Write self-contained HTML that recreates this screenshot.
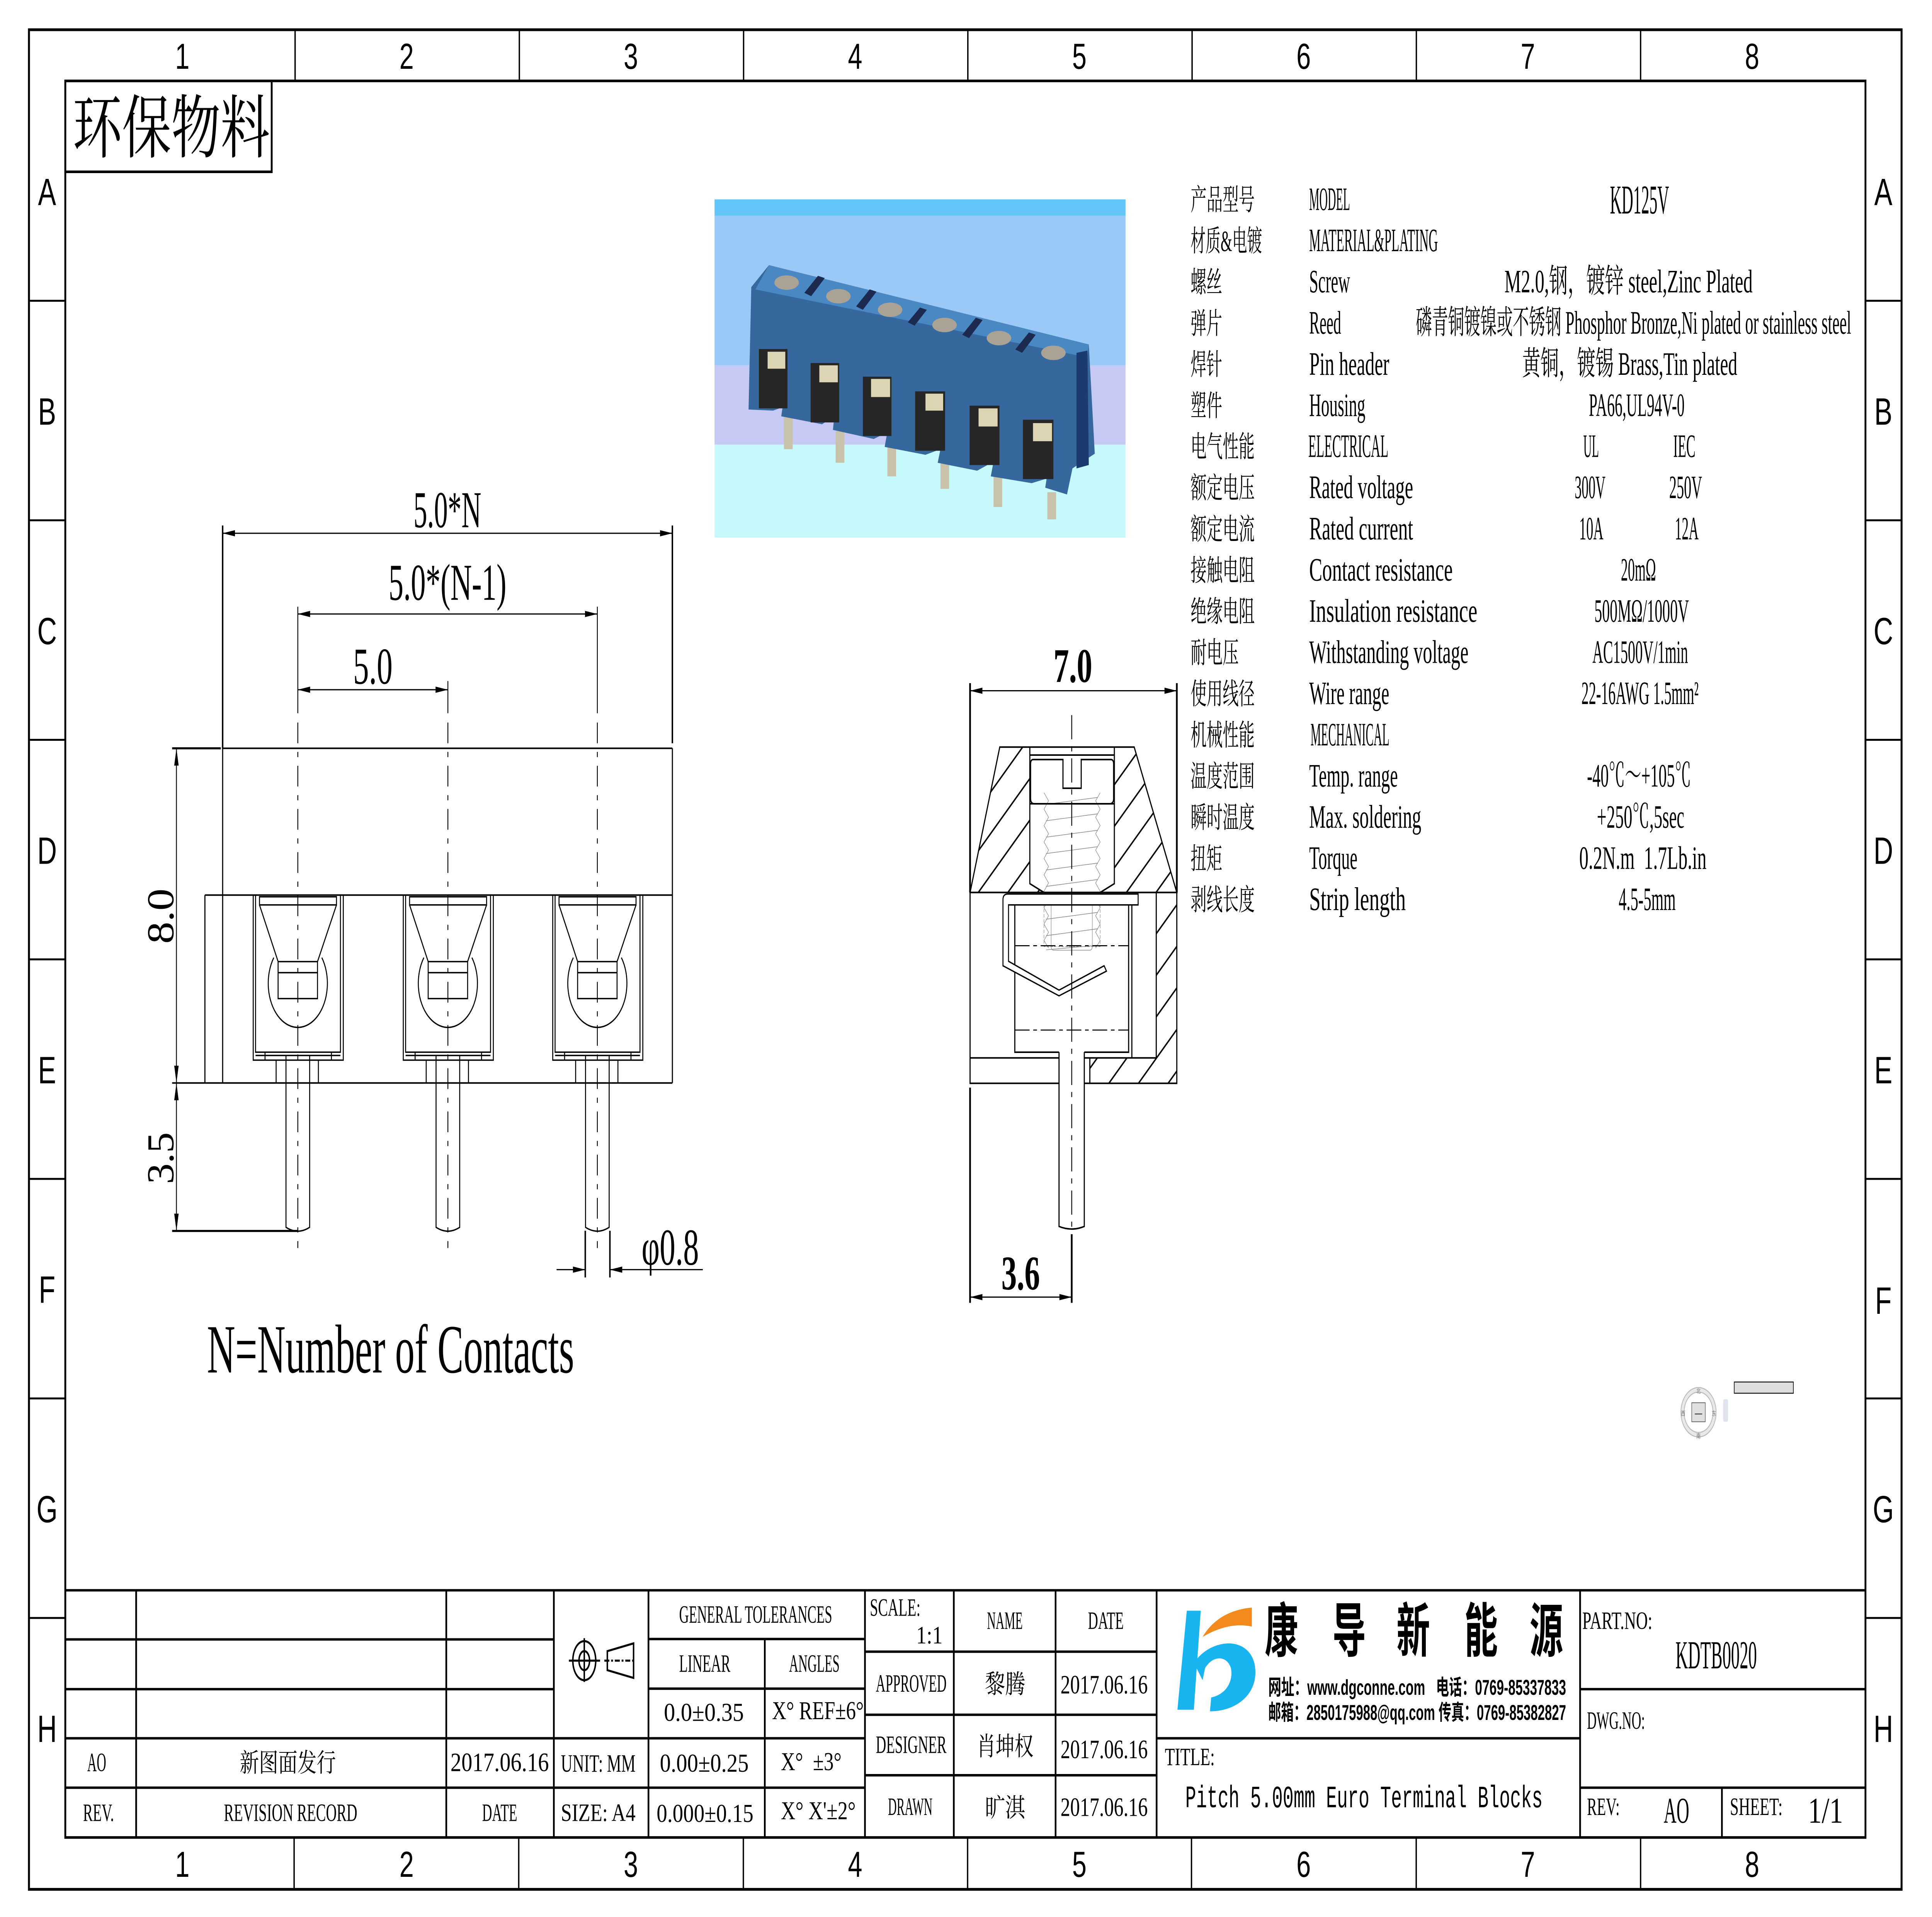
<!DOCTYPE html>
<html><head><meta charset="utf-8">
<style>
html,body{margin:0;padding:0;background:#fff;width:100%;height:100%;overflow:hidden;}
svg{display:block;position:absolute;left:0;top:0;width:100vw;height:100vh;}
.t{font-family:"Liberation Serif","Noto Serif CJK SC",serif;fill:#000;}
.n{font-family:"Liberation Sans",sans-serif;fill:#000;}
.m{font-family:"Liberation Mono","Noto Serif CJK SC",monospace;fill:#000;}
.h{font-family:"Liberation Sans","Noto Sans CJK SC",sans-serif;fill:#000;font-weight:700;}
</style></head><body>
<svg viewBox="0 0 1568 1109" preserveAspectRatio="none" xmlns="http://www.w3.org/2000/svg">
<defs>
<pattern id="hatch" patternUnits="userSpaceOnUse" width="17" height="17" patternTransform="rotate(45)">
<line x1="8.5" y1="0" x2="8.5" y2="17" stroke="#000" stroke-width="1"/>
</pattern>
<g id="win" fill="none" stroke="#000" stroke-width="0.8">
 <rect x="205.5" y="517.8" width="73.1" height="95.5"/>
 <polyline points="207.4,517.8 207.4,608.7 276.3,608.7 276.3,517.8"/>
 <line x1="207.4" y1="610.6" x2="276.3" y2="610.6"/>
 <line x1="215.1" y1="608.7" x2="215.1" y2="613.3"/>
 <line x1="269" y1="608.7" x2="269" y2="613.3"/>
 <rect x="210.6" y="518.8" width="62.5" height="4.7"/>
 <line x1="210.6" y1="523.5" x2="225.7" y2="556.3"/>
 <line x1="273.1" y1="523.5" x2="257.7" y2="556.3"/>
 <rect x="225.7" y="556.3" width="32" height="21.4"/>
 <line x1="225.7" y1="562.7" x2="257.7" y2="562.7"/>
 <path d="M222.2,554 A24 25.5 0 1 0 261.2,554"/>
 <line x1="224.1" y1="613.3" x2="224.1" y2="626.5"/>
 <line x1="258.4" y1="613.3" x2="258.4" y2="626.5"/>
 <path d="M232.1,610.6 V710 Q241.7,714.5 251.3,710 V610.6"/>
</g>
</defs>

<rect x="0" y="0" width="1568" height="1109" fill="#fff"/>

<!-- Border -->
<g fill="none" stroke="#000">
<rect x="23.5" y="17.2" width="1519.8" height="1075.8" stroke-width="1.6"/>
<rect x="53" y="46.8" width="1461" height="1016.2" stroke-width="1.5"/>
<path stroke-width="1.1" d="M239.5,17.2V46.8 M421.5,17.2V46.8 M603.5,17.2V46.8 M785.5,17.2V46.8 M967.5,17.2V46.8 M1149.5,17.2V46.8 M1331.5,17.2V46.8
M238.7,1063V1093 M421,1063V1093 M603.3,1063V1093 M785.3,1063V1093 M967,1063V1093 M1149.4,1063V1093 M1331.5,1063V1093
M23.5,174H53 M23.5,301H53 M23.5,428H53 M23.5,555H53 M23.5,682H53 M23.5,809H53 M23.5,936H53
M1514,174H1543 M1514,301H1543 M1514,428H1543 M1514,555H1543 M1514,682H1543 M1514,809H1543 M1514,936H1543"/>
</g>
<g class="n" font-size="21" text-anchor="middle">
<text x="148" y="39.8">1</text><text x="330" y="39.8">2</text><text x="512" y="39.8">3</text><text x="694" y="39.8">4</text><text x="876" y="39.8">5</text><text x="1058" y="39.8">6</text><text x="1240" y="39.8">7</text><text x="1422" y="39.8">8</text>
<text x="148" y="1085.7">1</text><text x="330" y="1085.7">2</text><text x="512" y="1085.7">3</text><text x="694" y="1085.7">4</text><text x="876" y="1085.7">5</text><text x="1058" y="1085.7">6</text><text x="1240" y="1085.7">7</text><text x="1422" y="1085.7">8</text>
</g>
<g class="n" font-size="22" text-anchor="middle">
<text x="38.2" y="118.7">A</text><text x="38.2" y="245.7">B</text><text x="38.2" y="372.7">C</text><text x="38.2" y="499.7">D</text><text x="38.2" y="626.7">E</text><text x="38.2" y="753.7">F</text><text x="38.2" y="880.7">G</text><text x="38.2" y="1007.7">H</text>
<text x="1528.5" y="118.7">A</text><text x="1528.5" y="245.7">B</text><text x="1528.5" y="372.7">C</text><text x="1528.5" y="499.7">D</text><text x="1528.5" y="626.7">E</text><text x="1528.5" y="760">F</text><text x="1528.5" y="880.7">G</text><text x="1528.5" y="1007.7">H</text>
</g>

<!-- 环保物料 box -->
<rect x="53" y="46.8" width="167.5" height="52.6" fill="none" stroke="#000" stroke-width="1.5"/>
<text class="t" x="59" y="88" font-size="40" textLength="160" lengthAdjust="spacingAndGlyphs">环保物料</text>

<!-- Photo -->
<g transform="translate(576.6,111.7) scale(0.2209,0.1311)">
 <rect x="15" y="28" width="1510" height="72" fill="#62c6f8"/>
 <rect x="15" y="100" width="1510" height="660" fill="#9bc9f7"/>
 <rect x="15" y="760" width="1510" height="350" fill="#c5c9f4"/>
 <rect x="15" y="1110" width="1510" height="410" fill="#c6f9fb"/>
 <g fill="#c9c2aa">
  <rect x="270" y="990" width="32" height="140"/>
  <rect x="460" y="1050" width="32" height="140"/>
  <rect x="650" y="1110" width="32" height="140"/>
  <rect x="845" y="1180" width="32" height="125"/>
  <rect x="1040" y="1250" width="32" height="135"/>
  <rect x="1238" y="1320" width="32" height="120"/>
 </g>
 <polygon fill="#36689e" points="150,415 215,318 1390,668 1412,1150 1330,1215 1310,1330 1230,1300 1235,1260 1180,1280 1030,1250 1040,1185 980,1225 835,1190 845,1130 790,1155 640,1120 650,1055 600,1085 450,1045 455,985 410,1020 260,985 265,945 230,960 140,955"/>
 <polygon fill="#4a88c4" points="215,318 1390,668 1385,725 165,425"/>
 <g fill="#a9a295">
  <ellipse cx="280" cy="395" rx="45" ry="32"/><ellipse cx="470" cy="455" rx="45" ry="32"/><ellipse cx="660" cy="515" rx="45" ry="32"/><ellipse cx="860" cy="582" rx="45" ry="32"/><ellipse cx="1060" cy="640" rx="45" ry="32"/><ellipse cx="1260" cy="705" rx="45" ry="32"/>
 </g>
 <g fill="#1c2a50">
  <polygon points="345,440 395,365 420,375 370,455"/><polygon points="535,500 585,425 610,435 560,515"/><polygon points="725,570 770,505 795,515 750,585"/><polygon points="925,625 975,550 1000,560 950,640"/><polygon points="1120,690 1170,615 1195,625 1145,705"/>
 </g>
 <polygon fill="#1b3a70" points="1345,705 1385,695 1390,1200 1345,1215"/>
 <g fill="#262626">
  <rect x="178" y="688" width="105" height="262"/><rect x="368" y="750" width="105" height="262"/><rect x="560" y="810" width="105" height="262"/><rect x="752" y="875" width="110" height="262"/><rect x="952" y="938" width="110" height="262"/><rect x="1148" y="1000" width="112" height="262"/>
 </g>
 <g fill="#ddd4b4">
  <rect x="210" y="700" width="65" height="75"/><rect x="400" y="760" width="68" height="75"/><rect x="590" y="820" width="70" height="80"/><rect x="790" y="885" width="65" height="75"/><rect x="985" y="950" width="70" height="80"/><rect x="1185" y="1015" width="70" height="80"/>
 </g>
</g>

<!-- Left view -->
<g fill="none" stroke="#000" stroke-width="0.7">
 <path d="M180.7,308.5H545.7 M241.7,355.2H484.8 M241.7,399H363.5"/>
 <path d="M143.2,432.9V712.1 M451.7,734.5H475 M495,734.5H570.4"/>
 <path d="M241.7,351V412.6 M484.8,351V412.6 M363.5,394V412.6"/>
 <path stroke-dasharray="12,5,3,5" d="M241.7,418V722 M363.5,418V722 M484.8,418V722"/>
</g>
<g fill="none" stroke="#000" stroke-width="1.2">
 <path d="M180.7,304V433 M545.7,304V430 M139.7,432.9H179.2 M139.7,712.1H241.7 M475,712V739 M495,712V739"/>
</g>
<g fill="#000">
 <polygon points="180.7,308.5 190.7,306.7 190.7,310.3"/><polygon points="545.7,308.5 535.7,306.7 535.7,310.3"/>
 <polygon points="241.7,355.2 251.7,353.4 251.7,357"/><polygon points="484.8,355.2 474.8,353.4 474.8,357"/>
 <polygon points="241.7,399 251.7,397.2 251.7,400.8"/><polygon points="363.5,399 353.5,397.2 353.5,400.8"/>
 <polygon points="143.2,432.9 141.4,442.9 145,442.9"/><polygon points="143.2,626.5 141.4,616.5 145,616.5"/>
 <polygon points="143.2,626.5 141.4,636.5 145,636.5"/><polygon points="143.2,712.1 141.4,702.1 145,702.1"/>
 <polygon points="475,734.5 465,732.7 465,736.3"/><polygon points="495,734.5 505,732.7 505,736.3"/>
</g>
<g fill="none" stroke="#000" stroke-width="0.9">
 <path d="M180.7,432.9H545.7 M180.7,432.9V626.5 M545.7,432.9V626.5 M166.3,517.8H545.7 M166.3,517.8V626.5 M139.7,626.5H545.7"/>
</g>
<use href="#win"/>
<use href="#win" transform="translate(121.8,0)"/>
<use href="#win" transform="translate(243.1,0)"/>
<g class="t">
 <text x="335.6" y="305" font-size="30" textLength="55" lengthAdjust="spacingAndGlyphs">5.0*N</text>
 <text x="315.4" y="347" font-size="30" textLength="95.6" lengthAdjust="spacingAndGlyphs">5.0*(N-1)</text>
 <text x="286.6" y="395.5" font-size="30" textLength="32" lengthAdjust="spacingAndGlyphs">5.0</text>
 <text transform="translate(140.7,546) rotate(-90)" x="0" y="0" font-size="31" textLength="32" lengthAdjust="spacingAndGlyphs">8.0</text>
 <text transform="translate(140.7,685) rotate(-90)" x="0" y="0" font-size="31" textLength="30" lengthAdjust="spacingAndGlyphs">3.5</text>
 <text x="520.7" y="731.6" font-size="30" textLength="46.5" lengthAdjust="spacingAndGlyphs">φ0.8</text>
 <text x="168" y="794" font-size="40" textLength="298" lengthAdjust="spacingAndGlyphs">N=Number of Contacts</text>
</g>

<!-- Side view -->
<polygon fill="url(#hatch)" points="811.4,432.2 835.8,432.2 835.8,511.2 847.3,516.3 787.3,516.3"/>
<polygon fill="url(#hatch)" points="904.4,432.2 920.5,432.2 955.1,516.3 892.9,516.3 904.4,511.2"/>
<rect fill="url(#hatch)" x="938.4" y="516.3" width="16.7" height="95.7"/>
<rect fill="url(#hatch)" x="884.5" y="612" width="70.6" height="14.7"/>
<g fill="none" stroke="#888" stroke-width="0.35">
 <rect x="847.3" y="517.6" width="45.6" height="30" stroke-dasharray="2,1"/>
 <rect x="853.1" y="517" width="33.4" height="32.7" rx="2"/>
 <polyline points="847.3,458.6 851,463.3 847.3,468.1 851,472.8 847.3,477.6 851,482.3 847.3,487.1 851,491.8 847.3,496.6 851,501.3 847.3,506.1 851,510.8 847.3,515.6 851,520.3 847.3,525.1 851,529.8 847.3,534.6 851,539.3 847.3,544.1 851,548.4"/>
 <polyline points="892.9,458.6 889.2,463.3 892.9,468.1 889.2,472.8 892.9,477.6 889.2,482.3 892.9,487.1 889.2,491.8 892.9,496.6 889.2,501.3 892.9,506.1 889.2,510.8 892.9,515.6 889.2,520.3 892.9,525.1 889.2,529.8 892.9,534.6 889.2,539.3 892.9,544.1 889.2,548.4"/>
 <path d="M849,465.3L891,461.3 M849,474.8L891,470.8 M849,484.3L891,480.3 M849,493.8L891,489.8 M849,503.3L891,499.3 M849,512.8L891,508.8 M849,522.3L891,518.3 M849,531.8L891,527.8 M849,541.3L891,537.3 M849,549.5L891,546.8"/>
</g>
<g fill="none" stroke="#000" stroke-width="0.9">
 <path d="M811.4,432.2H920.5L955.1,516.3H787.3Z"/>
 <path d="M787.3,516.3H955.1V626.7H880 M859.5,626.7H787.3V516.3"/>
 <path d="M835.8,432.2V511.2L847.3,516.3 M904.4,432.2V511.2L892.9,516.3 M835.8,436.8H904.4 M835.8,465H904.4"/>
 <path d="M838.5,439.4H862.7V456H877.5V439.4H901.7Q903.8,439.4 903.8,442V462Q903.8,465 900.5,465H839.6Q836.4,465 836.4,462V442Q836.4,439.4 838.5,439.4Z"/>
 <path d="M787.3,612H859.5 M880,612H938.4 M938.4,516.3V612 M823.6,522.8V608.7H859.5 M880,608.7H916V517.2 M918.6,517.2V612 M884.5,612V626.7"/>
 <path d="M859.5,608.7V709.5Q869.8,712.5 880,709.5V608.7"/>
 <path stroke-width="0.6" stroke-dasharray="12,3,3,3" d="M823.6,547.1H916 M823.6,595.9H916"/>
</g>
<path fill="#fff" stroke="#000" stroke-width="0.8" d="M923.7,517.2V523.5H818.5V556.1L859.5,572.8L896.1,558.7L898,561.8L859.5,576.1L814,558.7V520.5Q814,517.2 817.8,517.2Z"/>
<path fill="none" stroke="#000" stroke-width="0.7" stroke-dasharray="14,4,3,4" d="M869.8,413.7V713"/>
<g fill="none" stroke="#000" stroke-width="0.7">
 <path d="M787.3,399.6H955.1 M787.3,750.4H869.8"/>
</g>
<g fill="none" stroke="#000" stroke-width="1.4">
 <path d="M787.3,395.2V516.3 M955.1,395.2V516.3 M787.3,629.2V753.7 M869.8,714V753.7"/>
</g>
<g fill="#000">
 <polygon points="787.3,399.6 797.3,397.8 797.3,401.4"/><polygon points="955.1,399.6 945.1,397.8 945.1,401.4"/>
 <polygon points="787.3,750.4 797.3,748.6 797.3,752.2"/><polygon points="869.8,750.4 859.8,748.6 859.8,752.2"/>
</g>
<g class="t" font-weight="bold">
 <text x="855" y="394.5" font-size="28" textLength="31.5" lengthAdjust="spacingAndGlyphs">7.0</text>
 <text x="812.7" y="746" font-size="28" textLength="31.3" lengthAdjust="spacingAndGlyphs">3.6</text>
</g>

<!-- Spec table -->
<g class="t" font-size="17">
 <text x="966.3" y="121.5" textLength="52" lengthAdjust="spacingAndGlyphs">产品型号</text>
 <text x="966.3" y="145.3" textLength="58" lengthAdjust="spacingAndGlyphs">材质&amp;电镀</text>
 <text x="966.3" y="169.1" textLength="25.6" lengthAdjust="spacingAndGlyphs">螺丝</text>
 <text x="966.3" y="193.0" textLength="25.6" lengthAdjust="spacingAndGlyphs">弹片</text>
 <text x="966.3" y="216.8" textLength="25.6" lengthAdjust="spacingAndGlyphs">焊针</text>
 <text x="966.3" y="240.6" textLength="25.6" lengthAdjust="spacingAndGlyphs">塑件</text>
 <text x="966.3" y="264.4" textLength="52" lengthAdjust="spacingAndGlyphs">电气性能</text>
 <text x="966.3" y="288.2" textLength="52" lengthAdjust="spacingAndGlyphs">额定电压</text>
 <text x="966.3" y="312.1" textLength="52" lengthAdjust="spacingAndGlyphs">额定电流</text>
 <text x="966.3" y="335.9" textLength="52" lengthAdjust="spacingAndGlyphs">接触电阻</text>
 <text x="966.3" y="359.7" textLength="52" lengthAdjust="spacingAndGlyphs">绝缘电阻</text>
 <text x="966.3" y="383.5" textLength="39" lengthAdjust="spacingAndGlyphs">耐电压</text>
 <text x="966.3" y="407.3" textLength="52" lengthAdjust="spacingAndGlyphs">使用线径</text>
 <text x="966.3" y="431.2" textLength="52" lengthAdjust="spacingAndGlyphs">机械性能</text>
 <text x="966.3" y="455.0" textLength="52" lengthAdjust="spacingAndGlyphs">温度范围</text>
 <text x="966.3" y="478.8" textLength="52" lengthAdjust="spacingAndGlyphs">瞬时温度</text>
 <text x="966.3" y="502.6" textLength="25.6" lengthAdjust="spacingAndGlyphs">扭矩</text>
 <text x="966.3" y="526.4" textLength="52" lengthAdjust="spacingAndGlyphs">剥线长度</text>
</g>
<g class="t" font-size="19">
 <text x="1062.5" y="121.5" textLength="33.2" lengthAdjust="spacingAndGlyphs">MODEL</text>
 <text x="1062.5" y="145.3" textLength="104.5" lengthAdjust="spacingAndGlyphs">MATERIAL&amp;PLATING</text>
 <text x="1062.5" y="169.1" textLength="33.2" lengthAdjust="spacingAndGlyphs">Screw</text>
 <text x="1062.5" y="193.0" textLength="26" lengthAdjust="spacingAndGlyphs">Reed</text>
 <text x="1062.5" y="216.8" textLength="65" lengthAdjust="spacingAndGlyphs">Pin header</text>
 <text x="1062.5" y="240.6" textLength="45.6" lengthAdjust="spacingAndGlyphs">Housing</text>
 <text x="1061.8" y="264.4" textLength="65" lengthAdjust="spacingAndGlyphs">ELECTRICAL</text>
 <text x="1062.5" y="288.2" textLength="84.4" lengthAdjust="spacingAndGlyphs">Rated voltage</text>
 <text x="1062.5" y="312.1" textLength="84.4" lengthAdjust="spacingAndGlyphs">Rated current</text>
 <text x="1062.5" y="335.9" textLength="116.5" lengthAdjust="spacingAndGlyphs">Contact resistance</text>
 <text x="1062.5" y="359.7" textLength="136.5" lengthAdjust="spacingAndGlyphs">Insulation resistance</text>
 <text x="1062.5" y="383.5" textLength="129.3" lengthAdjust="spacingAndGlyphs">Withstanding voltage</text>
 <text x="1062.5" y="407.3" textLength="65" lengthAdjust="spacingAndGlyphs">Wire range</text>
 <text x="1063.6" y="431.2" textLength="64" lengthAdjust="spacingAndGlyphs">MECHANICAL</text>
 <text x="1062.5" y="455.0" textLength="72" lengthAdjust="spacingAndGlyphs">Temp. range</text>
 <text x="1062.5" y="478.8" textLength="91" lengthAdjust="spacingAndGlyphs">Max. soldering</text>
 <text x="1062.5" y="502.6" textLength="39.2" lengthAdjust="spacingAndGlyphs">Torque</text>
 <text x="1062.5" y="526.4" textLength="78.4" lengthAdjust="spacingAndGlyphs">Strip length</text>

 <text x="1306.6" y="123.5" font-size="23.7" textLength="48" lengthAdjust="spacingAndGlyphs">KD125V</text>
 <text x="1221" y="169.1" textLength="201.4" lengthAdjust="spacingAndGlyphs">M2.0,钢，镀锌 steel,Zinc Plated</text>
 <text transform="translate(1149,193) scale(0.63,1)" x="0" y="0" textLength="561" lengthAdjust="spacingAndGlyphs">磷青铜镀镍或不锈钢 Phosphor Bronze,Ni plated or stainless steel</text>
 <text x="1235.4" y="216.8" textLength="174.6" lengthAdjust="spacingAndGlyphs">黄铜，镀锡 Brass,Tin plated</text>
 <text x="1289.5" y="240.6" textLength="77.7" lengthAdjust="spacingAndGlyphs">PA66,UL94V-0</text>
 <text x="1285" y="264.4" textLength="12.7" lengthAdjust="spacingAndGlyphs">UL</text>
 <text x="1358" y="264.4" textLength="18" lengthAdjust="spacingAndGlyphs">IEC</text>
 <text x="1278" y="288.2" textLength="25" lengthAdjust="spacingAndGlyphs">300V</text>
 <text x="1354.7" y="288.2" textLength="26.7" lengthAdjust="spacingAndGlyphs">250V</text>
 <text x="1281.7" y="312.1" textLength="19.6" lengthAdjust="spacingAndGlyphs">10A</text>
 <text x="1359.3" y="312.1" textLength="19.3" lengthAdjust="spacingAndGlyphs">12A</text>
 <text x="1315.5" y="335.9" textLength="28.5" lengthAdjust="spacingAndGlyphs">20mΩ</text>
 <text x="1294" y="359.7" textLength="76.7" lengthAdjust="spacingAndGlyphs">500MΩ/1000V</text>
 <text x="1292.4" y="383.5" textLength="77.6" lengthAdjust="spacingAndGlyphs">AC1500V/1min</text>
 <text x="1283.5" y="407.3" textLength="95.1" lengthAdjust="spacingAndGlyphs">22-16AWG 1.5mm²</text>
 <text x="1288" y="455.0" textLength="84.5" lengthAdjust="spacingAndGlyphs">-40℃～+105℃</text>
 <text x="1296" y="478.8" textLength="71" lengthAdjust="spacingAndGlyphs">+250℃,5sec</text>
 <text x="1281.7" y="502.6" textLength="103.3" lengthAdjust="spacingAndGlyphs">0.2N.m&#160; 1.7Lb.in</text>
 <text x="1313.7" y="526.4" textLength="46.3" lengthAdjust="spacingAndGlyphs">4.5-5mm</text>
</g>

<!-- Navigation widget -->
<g>
 <ellipse cx="1378.5" cy="817" rx="13" ry="13" fill="none" stroke="#bbb" stroke-width="3.2"/>
 <ellipse cx="1378.5" cy="817" rx="13" ry="13" fill="none" stroke="#e8e8e8" stroke-width="2"/>
 <rect x="1373" y="811.5" width="11" height="11" fill="#e0e0e0" stroke="#555" stroke-width="0.4"/>
 <line x1="1375.5" y1="818" x2="1381.5" y2="818" stroke="#333" stroke-width="0.5"/>
 <rect x="1398.5" y="809.5" width="4" height="13" rx="1" fill="#dfe3ee"/>
 <rect x="1407.5" y="799.5" width="48" height="6.5" fill="#ddd" stroke="#000" stroke-width="0.5"/>
 <g fill="#777" font-family="Noto Sans CJK SC,sans-serif" font-size="3.5" text-anchor="middle">
  <text x="1378.5" y="806">北</text><text x="1378.5" y="832">南</text><text x="1366" y="819">西</text><text x="1391" y="819">东</text>
 </g>
</g>

<!-- Title block -->
<g fill="none" stroke="#000" stroke-width="1.4">
 <path d="M53,920H1514"/>
 <path d="M110.5,920V1063 M362.2,920V1063 M449.5,920V1063 M526.3,920V1063 M620.7,948.2V1063 M702,920V1063 M774.1,920V1063 M856.7,920V1063 M938.7,920V1063 M1282.4,920V1063 M1397.5,1034.2V1063"/>
 <path d="M53,948.4H449.5 M53,977.2H449.5 M53,1005.6H702 M53,1034.2H702 M526.3,948.2H702 M526.3,976.9H702 M702,955.5H938.7 M702,992H938.7 M702,1027H938.7 M1282.4,977.2H1514 M938.7,1005.6H1282.4 M1282.4,1034.2H1514"/>
</g>
<!-- projection symbol -->
<g fill="none" stroke="#000" stroke-width="1.2">
 <ellipse cx="474.2" cy="960.7" rx="9.3" ry="11.3"/>
 <ellipse cx="474.2" cy="960.7" rx="4.3" ry="5.5"/>
 <path d="M461.7,960.7H487 M474.2,947.7V973"/>
 <path d="M492.9,955.2L514.2,950.7V970.7L492.9,966.2Z"/>
 <path d="M490.5,960.7H516" stroke-dasharray="4,1.5,1.5,1.5"/>
</g>
<g class="t">
 <text x="70.8" y="1024.6" font-size="15.5" textLength="15.4" lengthAdjust="spacingAndGlyphs">AO</text>
 <text x="194.6" y="1025" font-size="15" textLength="78" lengthAdjust="spacingAndGlyphs">新图面发行</text>
 <text x="365.6" y="1024.6" font-size="15.5" textLength="79.9" lengthAdjust="spacingAndGlyphs">2017.06.16</text>
 <text x="455.2" y="1025" font-size="14.5" textLength="60.6" lengthAdjust="spacingAndGlyphs">UNIT: MM</text>
 <text x="67.4" y="1053.5" font-size="14.5" textLength="25.1" lengthAdjust="spacingAndGlyphs">REV.</text>
 <text x="181.7" y="1053.5" font-size="14.5" textLength="108.3" lengthAdjust="spacingAndGlyphs">REVISION RECORD</text>
 <text x="391.3" y="1053.5" font-size="14.5" textLength="28.5" lengthAdjust="spacingAndGlyphs">DATE</text>
 <text x="455.2" y="1053.5" font-size="14.5" textLength="60.6" lengthAdjust="spacingAndGlyphs">SIZE: A4</text>
 <text x="551.2" y="938.8" font-size="14.5" textLength="124.2" lengthAdjust="spacingAndGlyphs">GENERAL TOLERANCES</text>
 <text x="551.2" y="967.2" font-size="14.5" textLength="41.6" lengthAdjust="spacingAndGlyphs">LINEAR</text>
 <text x="640.4" y="967.2" font-size="14.5" textLength="41" lengthAdjust="spacingAndGlyphs">ANGLES</text>
 <text x="538.8" y="995.6" font-size="15" textLength="64.9" lengthAdjust="spacingAndGlyphs">0.0±0.35</text>
 <text x="626.6" y="994.5" font-size="15" textLength="74.4" lengthAdjust="spacingAndGlyphs">X° REF±6°</text>
 <text x="535.5" y="1025" font-size="15" textLength="72.1" lengthAdjust="spacingAndGlyphs">0.00±0.25</text>
 <text x="633.8" y="1024" font-size="15" textLength="49.2" lengthAdjust="spacingAndGlyphs">X°&#160; ±3°</text>
 <text x="532.9" y="1054" font-size="15" textLength="78.6" lengthAdjust="spacingAndGlyphs">0.000±0.15</text>
 <text x="633.8" y="1052.5" font-size="15" textLength="60.7" lengthAdjust="spacingAndGlyphs">X° X'±2°</text>
 <text x="706" y="934.8" font-size="14.5" textLength="41" lengthAdjust="spacingAndGlyphs">SCALE:</text>
 <text x="743.6" y="950.7" font-size="14.5" textLength="21.4" lengthAdjust="spacingAndGlyphs">1:1</text>
 <text x="801" y="942.3" font-size="14.5" textLength="29" lengthAdjust="spacingAndGlyphs">NAME</text>
 <text x="883" y="942.3" font-size="14.5" textLength="29" lengthAdjust="spacingAndGlyphs">DATE</text>
 <text x="710.8" y="978.7" font-size="14.5" textLength="57.4" lengthAdjust="spacingAndGlyphs">APPROVED</text>
 <text x="710.8" y="1014.1" font-size="14.5" textLength="57.4" lengthAdjust="spacingAndGlyphs">DESIGNER</text>
 <text x="720.7" y="1050" font-size="14.5" textLength="36.1" lengthAdjust="spacingAndGlyphs">DRAWN</text>
 <text x="799.4" y="979.5" font-size="15" textLength="32.7" lengthAdjust="spacingAndGlyphs">黎腾</text>
 <text x="792.8" y="1015.4" font-size="15" textLength="45.9" lengthAdjust="spacingAndGlyphs">肖坤权</text>
 <text x="799.4" y="1051" font-size="15" textLength="32.7" lengthAdjust="spacingAndGlyphs">旷淇</text>
 <text x="860.7" y="979.7" font-size="15.5" textLength="70.8" lengthAdjust="spacingAndGlyphs">2017.06.16</text>
 <text x="860.7" y="1017.1" font-size="15.5" textLength="70.8" lengthAdjust="spacingAndGlyphs">2017.06.16</text>
 <text x="860.7" y="1050.5" font-size="15.5" textLength="70.8" lengthAdjust="spacingAndGlyphs">2017.06.16</text>
 <text x="1284.2" y="942.3" font-size="14.5" textLength="56.8" lengthAdjust="spacingAndGlyphs">PART.NO:</text>
 <text x="1359.8" y="965.2" font-size="23" textLength="66.1" lengthAdjust="spacingAndGlyphs">KDTB0020</text>
 <text x="1288" y="1000.1" font-size="14.5" textLength="47" lengthAdjust="spacingAndGlyphs">DWG.NO:</text>
 <text x="945.4" y="1021.1" font-size="14.5" textLength="40.5" lengthAdjust="spacingAndGlyphs">TITLE:</text>
 <text x="1288" y="1050" font-size="14.5" textLength="26.5" lengthAdjust="spacingAndGlyphs">REV:</text>
 <text x="1350.3" y="1054.5" font-size="21" textLength="20.7" lengthAdjust="spacingAndGlyphs">AO</text>
 <text x="1404" y="1050" font-size="14.5" textLength="42.7" lengthAdjust="spacingAndGlyphs">SHEET:</text>
 <text x="1467.4" y="1054.5" font-size="21" textLength="28.4" lengthAdjust="spacingAndGlyphs">1/1</text>
</g>
<text class="m" x="962" y="1045.5" font-size="18" textLength="290" lengthAdjust="spacingAndGlyphs">Pitch 5.00mm Euro Terminal Blocks</text>

<!-- Logo -->
<polygon fill="#17b4ef" points="963.2,931.8 974.5,931.8 968.9,989.1 955.6,989.1"/>
<path fill="#17b4ef" d="M969,962 C982,948 1012,946 1018,962 C1023,978 1006,990 982,990 L983,982 C996,980 1001,972 999,965 C996,958 985,957 978,965 L976,972 Z"/>
<path fill="#f28a1e" d="M976,947 C985,936 1000,931 1016,930 L1016,941 C1004,939 990,941 976,947 Z"/>
<g class="h" font-size="34" text-anchor="middle">
 <text transform="translate(1040,955.5) scale(0.8,1)">康</text>
 <text transform="translate(1095,955.5) scale(0.8,1)">导</text>
 <text transform="translate(1147,955.5) scale(0.8,1)">新</text>
 <text transform="translate(1202,955.5) scale(0.8,1)">能</text>
 <text transform="translate(1255,955.5) scale(0.8,1)">源</text>
</g>
<g class="h" font-size="12.5" font-weight="900">
 <text x="1029.3" y="980.5" textLength="241.7" lengthAdjust="spacingAndGlyphs">网址：www.dgconne.com&#160;&#160; 电话：0769-85337833</text>
 <text x="1029.3" y="995" textLength="241.7" lengthAdjust="spacingAndGlyphs">邮箱：2850175988@qq.com 传真：0769-85382827</text>
</g>
</svg>
</body></html>
